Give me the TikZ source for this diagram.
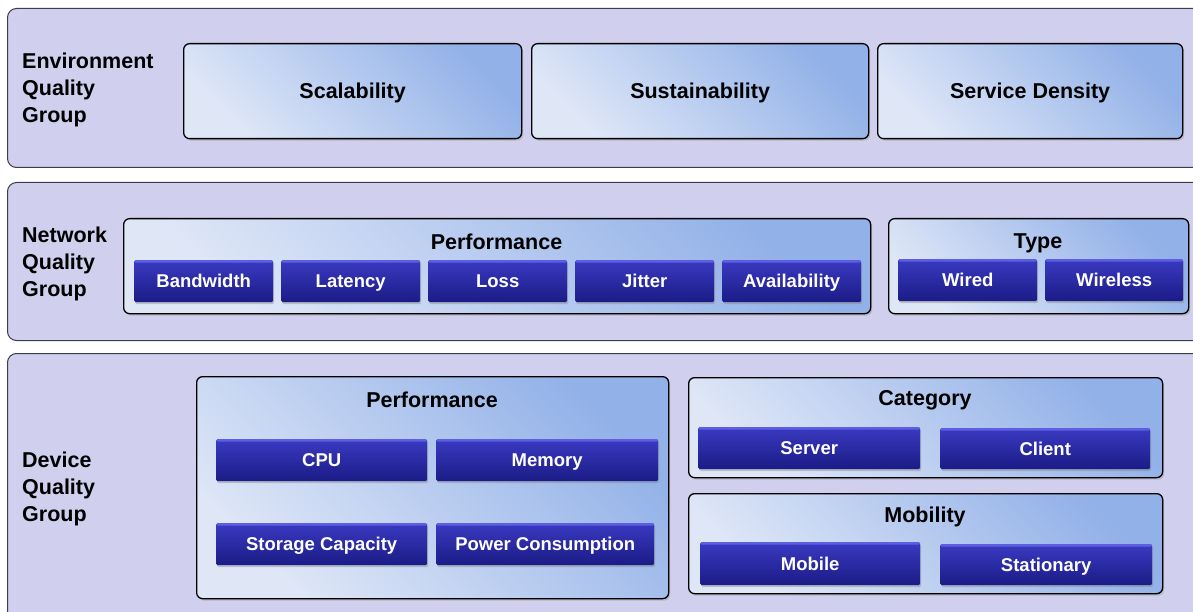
\documentclass[tikz,border=0pt]{standalone}
\usepackage{fontspec}
\setmainfont{Liberation Sans}
\usetikzlibrary{shadows}
\definecolor{panelfill}{HTML}{D0D0EE}
\definecolor{paneldraw}{HTML}{3C3C4C}
\definecolor{boxlight}{HTML}{DFE7F7}
\definecolor{boxdark}{HTML}{92B1E8}
\definecolor{btntop}{HTML}{3A3AC2}
\definecolor{btnmid}{HTML}{2929A4}
\definecolor{btnbot}{HTML}{1B1B86}
\definecolor{btnhi}{HTML}{5E5EE2}
\tikzset{
  panel/.style={draw=paneldraw, line width=1pt, fill=panelfill, rounded corners=9pt,
    anchor=north west, inner sep=0pt},
  ibox/.style={draw=black, line width=1.3pt, rounded corners=6pt, anchor=north west,
    inner sep=0pt, top color=boxdark, bottom color=boxlight, shading angle=-45,
    drop shadow={shadow xshift=1.5pt, shadow yshift=-2pt, opacity=0.35},
    font=\bfseries\fontsize{21.5}{24}\selectfont, text height=15.4pt, text depth=0pt},
  btn/.style={anchor=north west, inner sep=0pt, rounded corners=1.5pt,
    top color=btntop, middle color=btnmid, bottom color=btnbot, text=white,
    font=\bfseries\fontsize{18.5}{21}\selectfont, text height=13.3pt, text depth=0pt,
    drop shadow={shadow xshift=1pt, shadow yshift=-2pt, opacity=0.4},
    path picture={\fill[btnhi] (path picture bounding box.north west) rectangle
      ([yshift=-2.5pt]path picture bounding box.north east);}},
  grp/.style={anchor=west, align=left, inner sep=0pt, font=\bfseries\fontsize{21.5}{27}\selectfont},
  ttl/.style={anchor=base, inner sep=0pt, font=\bfseries\fontsize{21.5}{24}\selectfont},
}
\begin{document}
\begin{tikzpicture}[x=1pt, y=-1pt]
\useasboundingbox (0,0) rectangle (1193,612);
\clip (0,0) rectangle (1193,612);
\fill[white] (0,0) rectangle (1193,612);
% outer panels
\node[panel, minimum width=1210pt, minimum height=159pt] (envp) at (7,8) {};
\node[panel, minimum width=1210pt, minimum height=158pt] (netp) at (7,182) {};
\node[panel, minimum width=1210pt, minimum height=290pt] (devp) at (7,353) {};
% group labels
\node[grp] (envl) at (22,90) {Environment\\Quality\\Group};
\node[grp] (netl) at (22,264) {Network\\Quality\\Group};
\node[grp] (devl) at (22,489) {Device\\Quality\\Group};
% environment boxes
\node[ibox, minimum width=338pt, minimum height=95pt] (scal) at (183,43) {Scalability};
\node[ibox, minimum width=337pt, minimum height=95pt] (sust) at (531,43) {Sustainability};
\node[ibox, minimum width=305pt, minimum height=95pt] (sden) at (877,43) {Service Density};
% network
\node[ibox, minimum width=747pt, minimum height=95pt] (nperf) at (123,218) {};
\node[ttl] (nperft) at (496.5,250) {Performance};
\node[btn, minimum width=139pt, minimum height=42pt] (bw) at (134,260) {Bandwidth};
\node[btn, minimum width=139pt, minimum height=42pt] (lat) at (281,260) {Latency};
\node[btn, minimum width=139pt, minimum height=42pt] (loss) at (428,260) {Loss};
\node[btn, minimum width=139pt, minimum height=42pt] (jit) at (575,260) {Jitter};
\node[btn, minimum width=139pt, minimum height=42pt] (avail) at (722,260) {Availability};
\node[ibox, minimum width=300pt, minimum height=95pt] (ntype) at (888,218) {};
\node[ttl] (ntypet) at (1038,249) {Type};
\node[btn, minimum width=139pt, minimum height=42pt] (wired) at (898,259) {Wired};
\node[btn, minimum width=138pt, minimum height=42pt] (wless) at (1045,259) {Wireless};
% device
\node[ibox, minimum width=472pt, minimum height=222pt] (dperf) at (196,376) {};
\node[ttl] (dperft) at (432,407) {Performance};
\node[btn, minimum width=211pt, minimum height=42pt] (cpu) at (216,439) {CPU};
\node[btn, minimum width=222pt, minimum height=42pt] (mem) at (436,439) {Memory};
\node[btn, minimum width=211pt, minimum height=42pt] (stor) at (216,523) {Storage Capacity};
\node[btn, minimum width=218pt, minimum height=42pt] (pow) at (436,523) {Power Consumption};
\node[ibox, minimum width=474pt, minimum height=100pt] (dcat) at (688,377) {};
\node[ttl] (dcatt) at (925,405) {Category};
\node[btn, minimum width=222pt, minimum height=42pt] (serv) at (698,427) {Server};
\node[btn, minimum width=210pt, minimum height=41pt] (cli) at (940,428) {Client};
\node[ibox, minimum width=474pt, minimum height=100pt] (dmob) at (688,493) {};
\node[ttl] (dmobt) at (925,522) {Mobility};
\node[btn, minimum width=220pt, minimum height=43pt] (mobile) at (700,542) {Mobile};
\node[btn, minimum width=212pt, minimum height=41pt] (stat) at (940,544) {Stationary};
\end{tikzpicture}
\end{document}
